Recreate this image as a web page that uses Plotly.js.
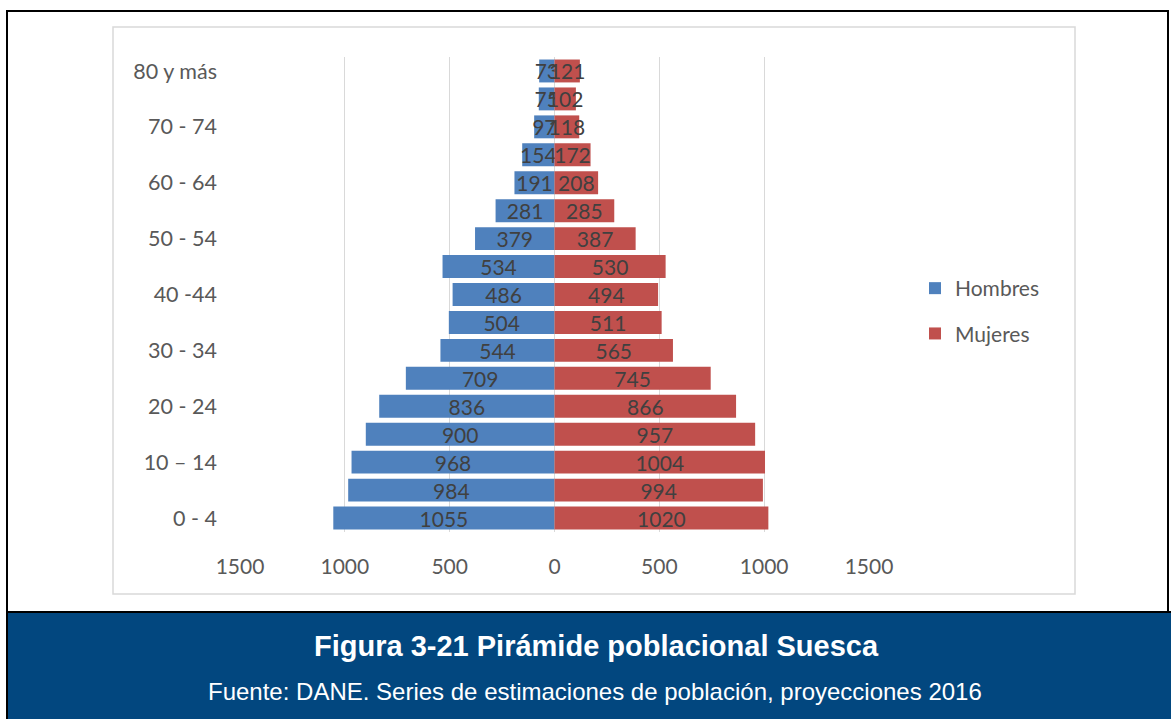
<!DOCTYPE html>
<html>
<head>
<meta charset="utf-8">
<script src="https://cdn.plot.ly/plotly-3.0.1.min.js"></script>
<style>
  html, body { margin: 0; padding: 0; background: #ffffff; }
  #chart { width: 1171px; height: 719px; }
</style>
</head>
<body>
<div id="chart"></div>
<script>
const ageGroups = ["0 - 4", "5 - 9", "10 – 14", "15 - 19", "20 - 24", "25 - 29", "30 - 34", "35 - 39", "40 -44", "45 - 49", "50 - 54", "55 - 59", "60 - 64", "65 - 69", "70 - 74", "75 - 79", "80 y más"];
const hombres = [1055, 984, 968, 900, 836, 709, 544, 504, 486, 534, 379, 281, 191, 154, 97, 75, 73];
const mujeres = [1020, 994, 1004, 957, 866, 745, 565, 511, 494, 530, 387, 285, 208, 172, 118, 102, 121];
const xTickVals = [-1500, -1000, -500, 0, 500, 1000, 1500];
const xTickText = ["1500", "1000", "500", "0", "500", "1000", "1500"];
const shownAgeLabels = ageGroups.filter((_, i) => i % 2 === 0);

const W = 1171, H = 719;
const L = 240, R = 869, T = 57, B = 532;
const px = v => (v - L) / (R - L);
const py = v => (B - v) / (B - T);

const labelFont = { family: "Lato, 'Open Sans', sans-serif", size: 21, color: "#404040" };

const traces = [
  {
    type: "bar", orientation: "h", name: "Hombres",
    y: ageGroups, x: hombres.map(v => -v),
    text: hombres.map(String), textposition: "inside", insidetextanchor: "middle",
    textangle: 0, constraintext: "none", textfont: labelFont, cliponaxis: false,
    marker: { color: "#4f81bd" }, legendgroup: "h", hoverinfo: "skip"
  },
  {
    type: "bar", orientation: "h", name: "Mujeres",
    y: ageGroups, x: mujeres,
    text: mujeres.map(String), textposition: "inside", insidetextanchor: "middle",
    textangle: 0, constraintext: "none", textfont: labelFont, cliponaxis: false,
    marker: { color: "#c0504d" }, legendgroup: "m", hoverinfo: "skip"
  }
];

const layout = {
  width: W, height: H,
  margin: { l: L, r: W - R, t: T, b: H - B, pad: 0 },
  paper_bgcolor: "#ffffff", plot_bgcolor: "rgba(0,0,0,0)",
  barmode: "overlay", bargap: 0.18,
  font: { family: "Lato, 'Open Sans', sans-serif", size: 21, color: "#595959" },
  showlegend: true,
  legend: {
    x: px(915), y: py(268), xanchor: "left", yanchor: "top",
    traceorder: "grouped", tracegroupgap: 15,
    font: { family: "Lato, 'Open Sans', sans-serif", size: 21, color: "#595959" },
    itemwidth: 30, bgcolor: "rgba(0,0,0,0)"
  },
  xaxis: {
    range: [-1500, 1500], tickmode: "array", tickvals: xTickVals, ticktext: xTickText,
    showgrid: true, gridcolor: "#d9d9d9", gridwidth: 1.3,
    zeroline: true, zerolinecolor: "#d9d9d9", zerolinewidth: 1.3,
    showline: false, ticks: "", ticklabelstandoff: 20,
    tickfont: { family: "Lato, 'Open Sans', sans-serif", size: 21, color: "#595959" },
    fixedrange: true
  },
  yaxis: {
    type: "category", categoryorder: "array", categoryarray: ageGroups,
    range: [-0.5, 16.5], tickmode: "array", tickvals: shownAgeLabels, ticktext: shownAgeLabels,
    showgrid: false, zeroline: false, showline: false, ticks: "",
    ticklabelstandoff: 22,
    tickfont: { family: "Lato, 'Open Sans', sans-serif", size: 21.5, color: "#595959" },
    fixedrange: true
  },
  shapes: [
    { type: "rect", xref: "paper", yref: "paper", layer: "below",
      x0: px(7), x1: px(1168), y0: py(11), y1: py(612),
      line: { color: "#000000", width: 2 }, fillcolor: "#ffffff" },
    { type: "rect", xref: "paper", yref: "paper", layer: "below",
      x0: px(113), x1: px(1075), y0: py(27), y1: py(594),
      line: { color: "#d9d9d9", width: 1.5 }, fillcolor: "rgba(0,0,0,0)" },
    { type: "rect", xref: "paper", yref: "paper", layer: "above",
      x0: px(7), x1: px(1175), y0: py(612), y1: py(722),
      line: { color: "#000000", width: 2 }, fillcolor: "#02477f" }
  ],
  annotations: [
    { xref: "paper", yref: "paper", x: px(596), y: py(646), xanchor: "center", yanchor: "middle",
      showarrow: false, text: "<b>Figura 3-21 Pirámide poblacional Suesca</b>",
      font: { family: "'Liberation Sans', Arial, sans-serif", size: 29, color: "#ffffff" } },
    { xref: "paper", yref: "paper", x: px(595), y: py(691), xanchor: "center", yanchor: "middle",
      showarrow: false, text: "Fuente: DANE. Series de estimaciones de población, proyecciones 2016",
      font: { family: "'Liberation Sans', Arial, sans-serif", size: 24, color: "#ffffff" } }
  ]
};

Plotly.newPlot("chart", traces, layout, { displayModeBar: false, staticPlot: true });
</script>
</body>
</html>
